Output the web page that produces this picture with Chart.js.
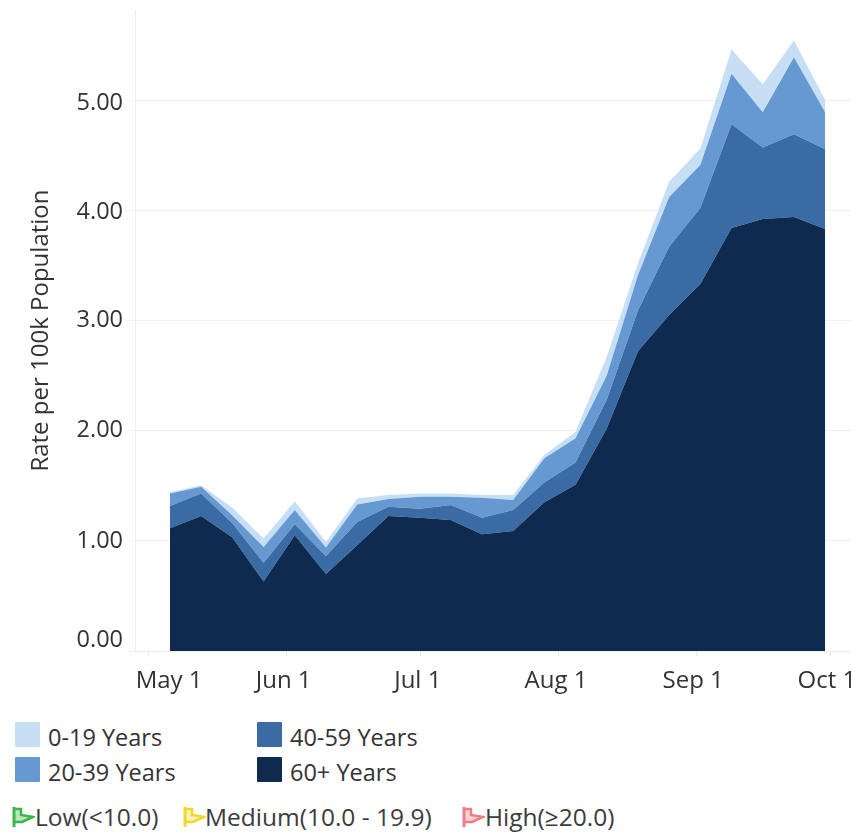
<!DOCTYPE html>
<html>
<head>
<meta charset="utf-8">
<script src="https://cdn.jsdelivr.net/npm/chart.js@4"></script>
<style>
    html, body { margin: 0; padding: 0; width: 851px; height: 832px; overflow: hidden; background: #fff; }
    body { position: relative; font-family: "Open Sans", sans-serif; color: #333; }
    canvas { position: absolute; left: 0; top: -8px; }
    .swatch { position: absolute; width: 25px; height: 25px; border-radius: 1px; }
    .label { position: absolute; line-height: 30px; white-space: nowrap; font-size: 23.5px; }
    .flagLabel { font-size: 24.5px; color: #3c3c3c; }
    svg { position: absolute; }
</style>
</head>
<body>
<canvas id="chart" width="900" height="704"></canvas>
<div id="legend"></div>
<script>
// days since May 1, one point a week
const days = [5, 12, 19, 26, 33, 40, 47, 54, 61, 68, 75, 82, 89, 96, 103, 110, 117, 124, 131, 138, 145, 152]

const years60 = [1.115, 1.225, 1.03, 0.63, 1.05, 0.70, 0.96, 1.225, 1.21, 1.19, 1.06, 1.09, 1.35, 1.51, 2.02, 2.72, 3.05, 3.33, 3.84, 3.92, 3.94, 3.83]
const years40 = [0.20, 0.205, 0.13, 0.17, 0.10, 0.16, 0.21, 0.085, 0.08, 0.135, 0.15, 0.19, 0.18, 0.20, 0.26, 0.37, 0.62, 0.69, 0.94, 0.65, 0.75, 0.725]
const years20 = [0.115, 0.06, 0.07, 0.145, 0.13, 0.08, 0.16, 0.07, 0.11, 0.075, 0.18, 0.09, 0.22, 0.22, 0.22, 0.32, 0.45, 0.39, 0.46, 0.32, 0.70, 0.335]
const years0 = [0.01, 0.015, 0.07, 0.075, 0.08, 0.05, 0.055, 0.035, 0.03, 0.03, 0.025, 0.045, 0.03, 0.06, 0.17, 0.11, 0.14, 0.15, 0.22, 0.255, 0.15, 0.11]

const monthTicks = [0, 31, 61, 92, 123, 153]
const monthLabels = ["May 1", "Jun 1", "Jul 1", "Aug 1", "Sep 1", "Oct 1"]
// the first label sits right of its tick in the original
const monthLabelDays = [4.8, 30.5, 60.6, 91.6, 122.4, 152.4]

const rateTicks = [0, 1, 2, 3, 4, 5]
const rateLabels = ["0.00", "1.00", "2.00", "3.00", "4.00", "5.00"]
const rateLabelValues = [0.1, 1, 2, 3, 3.98, 4.97]

const textColor = "#333333"
const family = '"Open Sans", sans-serif'
const xMin = -2.85
const xMax = 168.8
const yMax = 5.817

const toPoints = values => values.map((v, i) => ({x: days[i], y: v}))
const area = (label, values, color, fill) => ({
    label, data: toPoints(values), backgroundColor: color, borderWidth: 0, pointRadius: 0, tension: 0, fill
})

new Chart(document.getElementById("chart"), {
    type: "line",
    data: {
        datasets: [
            area("60+ Years", years60, "#0f2a4f", "origin"),
            area("40-59 Years", years40, "#3a6ba5", "-1"),
            area("20-39 Years", years20, "#6699d1", "-1"),
            area("0-19 Years", years0, "#c6dff5", "-1")
        ]
    },
    options: {
        responsive: false,
        animation: false,
        plugins: {legend: {display: false}, tooltip: {enabled: false}},
        scales: {
            x: {
                type: "linear", min: xMin, max: xMax, position: "bottom", weight: 0,
                afterBuildTicks: s => { s.ticks = monthTicks.map(value => ({value})) },
                afterFit: s => { s.height = 6 },
                grid: {display: false},
                border: {color: "#eeeeee"},
                ticks: {display: false}
            },
            xLabels: {
                type: "linear", min: xMin, max: xMax, position: "bottom", weight: 1,
                afterBuildTicks: s => { s.ticks = monthLabelDays.map(value => ({value})) },
                afterFit: s => { s.height = 39 },
                grid: {display: false},
                border: {display: false},
                ticks: {
                    autoSkip: false, maxRotation: 0, color: textColor, font: {family, size: 24}, padding: 2,
                    callback: (v, i) => monthLabels[i]
                }
            },
            y: {
                stacked: true, min: 0, max: yMax, position: "left", weight: 0,
                afterBuildTicks: s => { s.ticks = rateTicks.map(value => ({value})) },
                afterFit: s => { s.width = 0 },
                grid: {color: "#f0f0f0", drawTicks: true, tickLength: 8},
                border: {color: "#eeeeee"},
                ticks: {display: false}
            },
            yLabels: {
                type: "linear", min: 0, max: yMax, position: "left", weight: 1,
                afterBuildTicks: s => { s.ticks = rateLabelValues.map(value => ({value})) },
                afterFit: s => { s.width = 135 },
                grid: {display: false},
                border: {display: false},
                ticks: {
                    autoSkip: false, color: textColor, font: {family, size: 23.5}, padding: 4,
                    callback: (v, i) => rateLabels[i]
                },
                title: {
                    display: true, text: "Rate per 100k Population", color: textColor,
                    font: {family, size: 24}, padding: {top: 27, bottom: 0}
                }
            }
        }
    },
    plugins: [{
        // short month ticks under the axis
        id: "monthMarks",
        afterDraw(chart) {
            const {ctx, scales: {x}} = chart
            ctx.save()
            ctx.strokeStyle = "#e8e8e8"
            monthTicks.forEach(d => {
                const px = Math.round(x.getPixelForValue(d)) + 0.5
                ctx.beginPath()
                ctx.moveTo(px, x.top)
                ctx.lineTo(px, x.top + 6)
                ctx.stroke()
            })
            ctx.restore()
        }
    }]
})

const swatches = [
    ["0-19 Years", "#c6dff5", 15, 722, 48],
    ["20-39 Years", "#6699d1", 15, 757, 48],
    ["40-59 Years", "#3a6ba5", 257, 722, 290],
    ["60+ Years", "#0f2a4f", 257, 757, 290]
]
const flags = [
    ["Low(<10.0)", "#3cb54a", 11, 35],
    ["Medium(10.0 - 19.9)", "#efd92e", 182, 205],
    ["High(≥20.0)", "#ee7f88", 461, 485]
]

const legend = document.getElementById("legend")
swatches.forEach(([text, color, x, y, textX]) => {
    legend.innerHTML += `<div class="swatch" style="left:${x}px;top:${y}px;background:${color}"></div>
    <div class="label" style="left:${textX}px;top:${y}px">${text}</div>`
})
flags.forEach(([text, color, x, textX]) => {
    legend.innerHTML += `<svg style="left:${x}px;top:806px" width="24" height="22" viewBox="0 0 24 22">
        <path d="M3 1V21" fill="none" stroke="${color}" stroke-width="3"/>
        <path d="M3 3H10V9L22 11L11 16H3" fill="${color}" fill-opacity="0.35" stroke="${color}" stroke-width="2.5"/></svg>
    <div class="label flagLabel" style="left:${textX}px;top:802px">${text.replace("<", "&lt;")}</div>`
})
</script>
</body>
</html>
